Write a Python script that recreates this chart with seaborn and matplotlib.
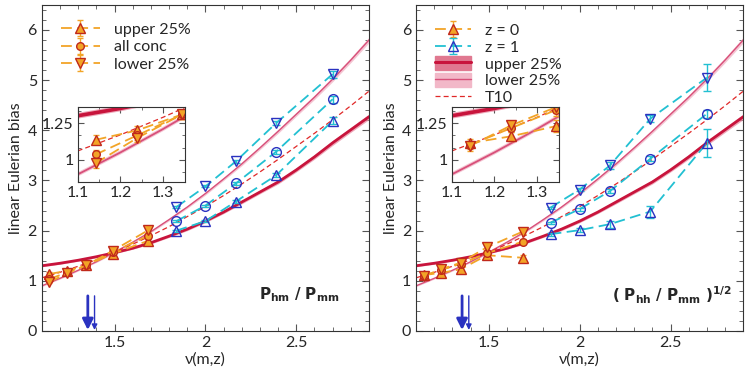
import numpy as np
import matplotlib
matplotlib.use('Agg')
import matplotlib.pyplot as plt
import seaborn as sns
from matplotlib.ticker import MultipleLocator, FuncFormatter
from matplotlib.patches import Patch
from matplotlib.lines import Line2D

# theory curves, every 0.1 in nu
nu_grid = [1.1, 1.2, 1.3, 1.4, 1.5, 1.6, 1.7, 1.8, 1.9, 2.0,
           2.1, 2.2, 2.3, 2.4, 2.5, 2.6, 2.7, 2.8, 2.9]
upper_b = [1.30, 1.35, 1.41, 1.48, 1.56, 1.65, 1.76, 1.89, 2.03, 2.19,
           2.37, 2.57, 2.77, 2.97, 3.21, 3.47, 3.75, 4.01, 4.27]
upper_err = [0.02, 0.02, 0.02, 0.02, 0.02, 0.02, 0.025, 0.025, 0.03, 0.03,
             0.03, 0.035, 0.035, 0.04, 0.04, 0.045, 0.05, 0.05, 0.055]
lower_b = [0.90, 1.05, 1.21, 1.38, 1.57, 1.77, 1.98, 2.22, 2.47, 2.74,
           3.03, 3.33, 3.65, 3.98, 4.32, 4.66, 5.02, 5.40, 5.80]
lower_err = [0.015, 0.015, 0.015, 0.015, 0.02, 0.02, 0.02, 0.025, 0.025, 0.03,
             0.03, 0.035, 0.035, 0.04, 0.04, 0.045, 0.05, 0.05, 0.055]
t10_b = [1.06, 1.17, 1.29, 1.42, 1.57, 1.73, 1.90, 2.08, 2.28, 2.48,
         2.70, 2.93, 3.17, 3.42, 3.68, 3.94, 4.21, 4.49, 4.78]

# measured points
nu_z0 = [1.142, 1.239, 1.345, 1.49, 1.686]
nu_z1 = [1.84, 2.0, 2.167, 2.388, 2.70]

# P_hm / P_mm
hm_z0_up = [1.136, 1.20, 1.31, 1.54, 1.80]
hm_z0_all = [1.036, 1.166, 1.31, 1.57, 1.90]
hm_z0_low = [0.977, 1.148, 1.31, 1.60, 2.01]
hm_z0_err = [0.03, 0.03, 0.03, 0.04, 0.04]
hm_z1_up = [2.00, 2.19, 2.58, 3.10, 4.19]
hm_z1_all = [2.19, 2.50, 2.94, 3.57, 4.62]
hm_z1_low = [2.47, 2.88, 3.38, 4.14, 5.12]
hm_z1_err = [0.02, 0.02, 0.03, 0.04, 0.07]

# (P_hh / P_mm)^1/2
hh_z0_up = [1.114, 1.16, 1.23, 1.51, 1.46]
hh_z0_all = [1.10, 1.216, 1.34, 1.55, 1.78]
hh_z0_low = [1.093, 1.234, 1.36, 1.67, 1.98]
hh_z0_err = [0.03, 0.03, 0.04, 0.05, 0.05]
hh_z1_up = [1.93, 2.01, 2.13, 2.38, 3.75]
hh_z1_up_err = [0.03, 0.04, 0.07, 0.12, 0.28]
hh_z1_all = [2.16, 2.43, 2.79, 3.43, 4.33]
hh_z1_all_err = [0.02, 0.03, 0.04, 0.05, 0.08]
hh_z1_low = [2.46, 2.82, 3.30, 4.23, 5.05]
hh_z1_low_err = [0.02, 0.03, 0.07, 0.07, 0.27]

nu_star = [1.353, 1.39]   # arrows
panel_labels = [r'$\mathbf{P_{hm}}\ \mathbf{/}\ \mathbf{P_{mm}}$',
                r'$\mathbf{(\ P_{hh}}\ \mathbf{/}\ \mathbf{P_{mm}\ )^{1/2}}$']

sns.set_theme(style='ticks')
plt.rcParams['font.family'] = ['Lato', 'DejaVu Sans']
plt.rcParams['mathtext.fontset'] = 'dejavusans'

ORANGE = '#f2a427'
ORED = '#c0281a'
CYAN = '#22c0d2'
BLUE = '#2a32c0'
CRIMSON = '#c8143c'
PINK = '#d8507a'
T10C = '#e02828'
FS = 11.5

fig = plt.figure(figsize=(7.47, 3.74), dpi=100)
ax1 = fig.add_axes([0.056, 0.115, 0.438, 0.872])
ax2 = fig.add_axes([0.557, 0.115, 0.438, 0.872])
in1 = fig.add_axes([0.104, 0.514, 0.143, 0.200])
in2 = fig.add_axes([0.6047, 0.514, 0.143, 0.200])


def draw_theory(ax, lw_scale=1.0):
    nu = np.array(nu_grid)
    ub, ue = np.array(upper_b), np.array(upper_err)
    lb, le = np.array(lower_b), np.array(lower_err)
    ax.fill_between(nu, ub - ue, ub + ue, color='#e8849c', lw=0, alpha=0.7)
    sns.lineplot(x=nu, y=ub, ax=ax, color=CRIMSON, lw=2.0 * lw_scale, legend=False)
    ax.fill_between(nu, lb - le, lb + le, color='#f2b8c8', lw=0, alpha=0.8)
    sns.lineplot(x=nu, y=lb, ax=ax, color=PINK, lw=1.0 * lw_scale, legend=False)
    sns.lineplot(x=nu, y=t10_b, ax=ax, color=T10C, lw=0.9, legend=False,
                 linestyle=(0, (4, 2.5)))


def draw_z0(ax, up, allc, low, err):
    kw = dict(color=ORANGE, ecolor=ORANGE, mec=ORED, mfc=ORANGE, capsize=2.5,
              elinewidth=1.0, capthick=1.0, lw=1.3, linestyle=(0, (6, 3)))
    h1 = ax.errorbar(nu_z0, up, yerr=err, marker='^', ms=7, **kw)
    h2 = ax.errorbar(nu_z0, allc, yerr=err, marker='o', ms=5.5, **kw)
    h3 = ax.errorbar(nu_z0, low, yerr=err, marker='v', ms=7, **kw)
    return h1, h2, h3


def draw_z1(ax, up, allc, low, errs):
    kw = dict(color=CYAN, ecolor=CYAN, mec=BLUE, mfc='none', capsize=3,
              elinewidth=1.0, capthick=1.0, lw=1.3, mew=1.0, linestyle=(0, (6, 3)))
    h1 = ax.errorbar(nu_z1, up, yerr=errs[0], marker='^', ms=7, **kw)
    ax.errorbar(nu_z1, allc, yerr=errs[1], marker='o', ms=7, **kw)
    ax.errorbar(nu_z1, low, yerr=errs[2], marker='v', ms=7, **kw)
    return h1


def style_main(ax):
    ax.set_xlim(1.1, 2.9)
    ax.set_ylim(0, 6.5)
    ax.xaxis.set_major_locator(MultipleLocator(0.5))
    ax.xaxis.set_minor_locator(MultipleLocator(0.1))
    ax.yaxis.set_major_locator(MultipleLocator(1))
    ax.yaxis.set_minor_locator(MultipleLocator(0.2))
    fmt = FuncFormatter(lambda v, p: '%g' % v)
    ax.xaxis.set_major_formatter(fmt)
    ax.yaxis.set_major_formatter(fmt)
    ax.tick_params(which='both', direction='in', top=True, right=True,
                   labelsize=FS, color='#555555')
    ax.tick_params(which='major', length=5, width=0.8)
    ax.tick_params(which='minor', length=3, width=0.6)
    for s in ax.spines.values():
        s.set_linewidth(0.8)
        s.set_color('#333333')
    ax.set_xlabel(r'ν(m,z)', fontsize=FS, labelpad=2)
    ax.set_ylabel('linear Eulerian bias', fontsize=FS, labelpad=3)
    for i, nstar in enumerate(nu_star):
        ax.annotate('', xy=(nstar, 0.02), xytext=(nstar, 0.7),
                    arrowprops=dict(arrowstyle='-|>', color=BLUE,
                                    lw=2.0 if i == 0 else 1.0,
                                    mutation_scale=16 if i == 0 else 8,
                                    shrinkA=0, shrinkB=0))


def style_inset(ax):
    ax.set_xlim(1.1, 1.35)
    ax.set_ylim(0.85, 1.36)
    ax.set_xticks([1.1, 1.2, 1.3])
    ax.set_yticks([1.0, 1.25])
    ax.xaxis.set_minor_locator(MultipleLocator(0.05))
    ax.yaxis.set_minor_locator(MultipleLocator(0.25 / 3))
    fmt = FuncFormatter(lambda v, p: '%g' % round(v, 2))
    ax.xaxis.set_major_formatter(fmt)
    ax.yaxis.set_major_formatter(fmt)
    ax.tick_params(which='both', direction='in', top=True, right=True,
                   labelsize=FS, pad=3, color='#555555')
    ax.tick_params(which='major', length=4, width=0.8)
    ax.tick_params(which='minor', length=2.5, width=0.6)
    for s in ax.spines.values():
        s.set_linewidth(0.8)
        s.set_color('#333333')
    ax.set_xlabel('')
    ax.set_ylabel('')


# left panel
draw_theory(ax1)
draw_z1(ax1, hm_z1_up, hm_z1_all, hm_z1_low, [hm_z1_err] * 3)
hl = draw_z0(ax1, hm_z0_up, hm_z0_all, hm_z0_low, hm_z0_err)
style_main(ax1)
ax1.legend(hl, ['upper 25%', 'all conc', 'lower 25%'], loc='upper left',
           bbox_to_anchor=(0.03, 0.975), frameon=False, fontsize=FS,
           handlelength=2.4, handletextpad=0.9, labelspacing=0.2,
           borderaxespad=0.2)
ax1.text(2.74, 0.72, panel_labels[0], fontsize=11, ha='right', va='center')

draw_theory(in1, 1.3)
draw_z0(in1, hm_z0_up, hm_z0_all, hm_z0_low, hm_z0_err)
style_inset(in1)

# right panel
draw_theory(ax2)
h_z1 = draw_z1(ax2, hh_z1_up, hh_z1_all, hh_z1_low,
               [hh_z1_up_err, hh_z1_all_err, hh_z1_low_err])
h_z0 = draw_z0(ax2, hh_z0_up, hh_z0_all, hh_z0_low, hh_z0_err)[0]
style_main(ax2)
h_up = (Patch(color='#e07890'), Line2D([], [], color=CRIMSON, lw=2.2))
h_lo = (Patch(color='#f2b8c8'), Line2D([], [], color=PINK, lw=1.0))
h_t10 = Line2D([], [], color=T10C, lw=0.9, linestyle=(0, (4, 2.5)))
ax2.legend([h_z0, h_z1, h_up, h_lo, h_t10],
           ['z = 0', 'z = 1', 'upper 25%', 'lower 25%', 'T10'],
           loc='upper left', bbox_to_anchor=(0.03, 0.975), frameon=False,
           fontsize=FS, handlelength=2.2, handletextpad=0.9,
           labelspacing=0.09, borderaxespad=0.2, handleheight=0.95)
ax2.text(2.84, 0.72, panel_labels[1], fontsize=11, ha='right', va='center')

draw_theory(in2, 1.3)
draw_z0(in2, hh_z0_up, hh_z0_all, hh_z0_low, hh_z0_err)
style_inset(in2)

fig.savefig('out.png', dpi=100)
